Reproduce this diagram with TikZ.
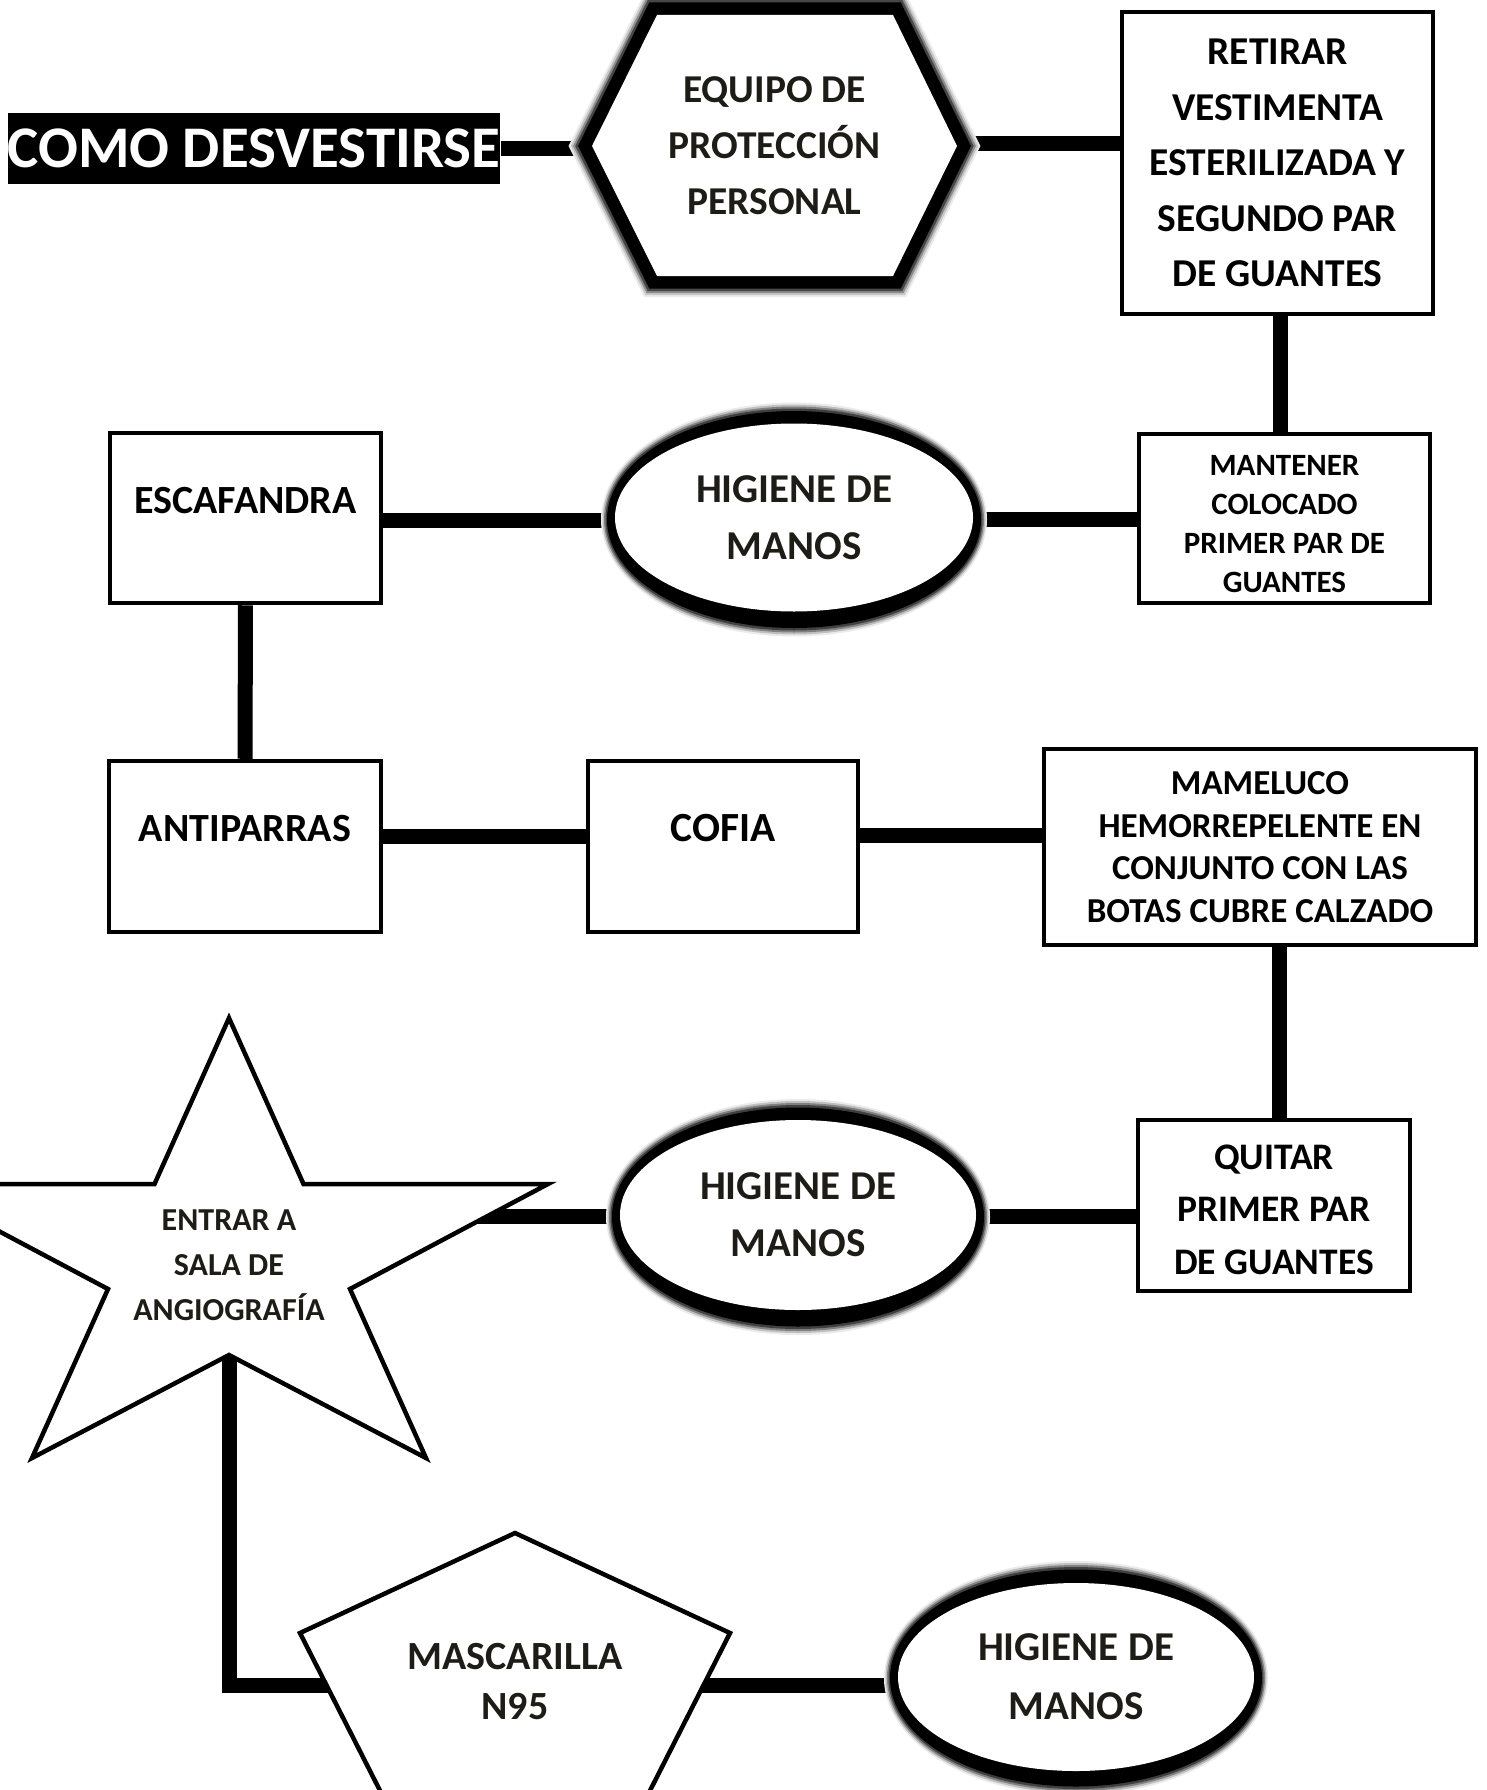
\documentclass[tikz,border=0pt]{standalone}
\usepackage{fontspec}
\setmainfont{Carlito}
\usetikzlibrary{shapes.geometric,backgrounds}
\definecolor{ink}{RGB}{30,28,22}
\tikzset{
  conn/.style={line width=15pt, draw=black},
  box/.style={draw=black, line width=4.5pt, fill=white, rectangle, inner sep=0pt, align=center},
  onebox/.style={box, text height=27pt, text depth=37pt, font=\bfseries\fontsize{40}{48}\selectfont},
  glow/.style={
    preaction={draw=black!8, line width=42pt},
    preaction={draw=black!22, line width=38pt},
    preaction={draw=black!45, line width=34pt},
    preaction={draw=black!72, line width=30pt},
    preaction={draw=black, line width=25pt},
    fill=white, line join=round},
  oval/.style={ellipse, fill=white, inner sep=0pt, align=center, text=ink,
    font=\bfseries\fontsize{41}{57}\selectfont},
  shapetxt/.style={inner sep=0pt, align=center, text=ink},
  boxtxt/.style={inner sep=0pt, align=center, text=black},
  thinshape/.style={draw=black, line width=4.5pt, fill=white, line join=miter}
}
% soft dark rim round an oval: centre x, centre y, inner x radius, inner y radius
\newcommand\ovalglow[4]{%
  \fill[black!8]  (#1,#2+2) ellipse ({#3+14} and {#4+23});
  \fill[black!25] (#1,#2+2) ellipse ({#3+12.5} and {#4+21});
  \fill[black!50] (#1,#2+2) ellipse ({#3+11} and {#4+19});
  \fill[black!75] (#1,#2+2) ellipse ({#3+9.5} and {#4+17});
  \fill[black]    (#1,#2+2) ellipse ({#3+8} and {#4+14.5});
}
\begin{document}
\begin{tikzpicture}[x=1pt,y=-1pt]
\useasboundingbox (0,0) rectangle (1486,1790);
\clip (0,0) rectangle (1486,1790);

% title
\node[fill=black, text=white, minimum width=492pt, minimum height=71pt, inner sep=0pt,
      font=\bfseries\fontsize{59}{62}\selectfont] (title) at (254,148.5) {COMO DESVESTIRSE};

% hexagon
\path[glow] (592,146) -- (657,15) -- (893,15) -- (957,146) -- (893,276) -- (657,276) -- cycle;
\node[shapetxt, font=\bfseries\fontsize{39.5}{56}\selectfont] (hex) at (774.5,146) {EQUIPO DE\\PROTECCIÓN\\PERSONAL};

% boxes
\node[box, minimum width=311pt, minimum height=302pt, font=\bfseries\fontsize{39.5}{55.5}\selectfont] (retirar) at (1277.5,163)
  {RETIRAR\\VESTIMENTA\\ESTERILIZADA Y\\SEGUNDO PAR\\DE GUANTES};
\node[box, minimum width=291pt, minimum height=169pt] (mantener) at (1284.5,518.5) {};
\node[boxtxt, font=\bfseries\fontsize{31}{39}\selectfont] (mantenertxt) at (1284.5,524.5)
  {MANTENER\\COLOCADO\\PRIMER PAR DE\\GUANTES};

\ovalglow{794}{517.5}{179}{94}
\node[oval, minimum width=358pt, minimum height=188pt] (ell1) at (794,517.5) {HIGIENE DE\\MANOS};

\node[onebox, minimum width=271pt, minimum height=170pt] (escaf) at (245.5,518) {ESCAFANDRA};
\node[onebox, minimum width=272pt, minimum height=171pt] (antip) at (245,846.5) {ANTIPARRAS};
\node[onebox, minimum width=270pt, minimum height=171pt, font=\bfseries\fontsize{41.5}{48}\selectfont] (cofia) at (723,846.5) {COFIA};
\node[box, minimum width=432pt, minimum height=196pt, font=\bfseries\fontsize{35}{42.5}\selectfont] (mamel) at (1260,847)
  {MAMELUCO\\HEMORREPELENTE EN\\CONJUNTO CON LAS\\BOTAS CUBRE CALZADO};
\node[box, minimum width=272pt, minimum height=171pt] (quitar) at (1274,1205.5) {};
\node[boxtxt, font=\bfseries\fontsize{37.5}{52.5}\selectfont] (quitartxt) at (1274,1209.5)
  {QUITAR\\PRIMER PAR\\DE GUANTES};

\ovalglow{798}{1215}{178}{95}
\node[oval, minimum width=356pt, minimum height=190pt] (ell2) at (798,1215) {HIGIENE DE\\MANOS};

% star
\path[thinshape] (229,1018) -- (303.5,1184) -- (548,1184) -- (350,1289) -- (426,1458)
  -- (229,1355) -- (32,1458) -- (108,1289) -- (-90,1184) -- (154.5,1184) -- cycle;
\node[shapetxt, font=\bfseries\fontsize{32}{45}\selectfont] (star) at (229,1265.5) {ENTRAR A\\SALA DE\\ANGIOGRAFÍA};

% pentagon
\path[thinshape] (515,1533) -- (730,1633) -- (630,1830) -- (400,1830) -- (300,1633) -- cycle;
\node[shapetxt, font=\bfseries\fontsize{40}{50}\selectfont] (masc) at (515,1681) {MASCARILLA\\N95};

\ovalglow{1076}{1676}{178}{94}
\node[oval, minimum width=356pt, minimum height=188pt, font=\bfseries\fontsize{41}{59}\selectfont] (ell3) at (1076,1677) {HIGIENE DE\\MANOS};

\coordinate (elbow) at (229,1685);
\coordinate (mascline) at (515,1685);

\begin{pgfonlayer}{background}
  \fill[white] (0,0) rectangle (1486,1790);
  \draw[conn] (title) -- (title -| hex);
  \draw[conn] ([yshift=2pt]hex.center) -- ([yshift=2pt]hex.center -| retirar.center);
  \draw[conn] ([xshift=2.5pt]retirar.center) -- ([xshift=2.5pt]retirar.center |- mantener.center);
  \draw[conn] ([yshift=-2pt]ell1.center) -- ([yshift=-2pt]ell1.center -| mantener.center);
  \draw[conn] ([yshift=-2pt]escaf.center) -- ([yshift=-2pt]escaf.center -| ell1.center);
  \draw[conn] (escaf) -- (antip);
  \draw[conn] ([yshift=10pt]antip.center) -- ([yshift=10pt]cofia.center);
  \draw[conn] ([yshift=11pt]cofia.center) -- ([yshift=11pt]cofia.center -| mamel.center);
  \draw[conn] ([xshift=5pt]quitar.center) -- ([xshift=5pt]quitar.center |- mamel.center);
  \draw[conn] ([yshift=-1pt]ell2.center) -- ([yshift=-1pt]ell2.center -| quitar.center);
  \draw[conn] ([yshift=-1pt]ell2.center) -- ([yshift=-1pt]ell2.center -| star.center);
  \draw[conn] (star) -- (elbow) -- (mascline);
  \draw[conn] (mascline) -- (mascline -| ell3.center);
\end{pgfonlayer}
\end{tikzpicture}
\end{document}
